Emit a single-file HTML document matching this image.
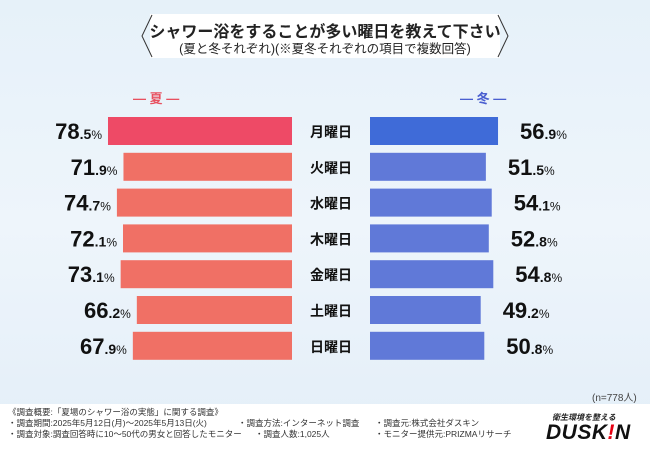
<!DOCTYPE html>
<html><head><meta charset="utf-8"><style>
body{margin:0;width:650px;height:450px;overflow:hidden;font-family:"Liberation Sans","Noto Sans CJK JP",sans-serif;}
#root{position:relative;width:650px;height:450px;background:linear-gradient(180deg,#e6f1f9 0%,#eef5fb 50%,#e3eef8 100%);}
.t{position:absolute;white-space:nowrap;}
</style></head><body>
<div id="root">
<div class="t" style="left:150px;top:14px;width:350px;height:44px;background:#fff;"></div>
<svg class="t" style="left:0;top:0" width="650" height="70">
<polyline points="152,15 142,36 152,57" fill="none" stroke="#333" stroke-width="1"/>
<polyline points="498,15 508,36 498,57" fill="none" stroke="#333" stroke-width="1"/>
</svg>
<div class="t" style="left:0;width:650px;text-align:center;top:18px;font-size:16px;font-weight:bold;color:#222;">シャワー浴をすることが多い曜日を教えて下さい</div>
<div class="t" style="left:0;width:650px;text-align:center;top:38px;font-size:12.5px;color:#222;">(夏と冬それぞれ)(※夏冬それぞれの項目で複数回答)</div>
<div class="t" style="left:133px;top:88px;font-size:13px;color:#e8505f;font-weight:bold;">— 夏 —</div>
<div class="t" style="left:460px;top:88px;font-size:13px;color:#4a5fd0;font-weight:bold;">— 冬 —</div>
<svg id="chart" class="t" style="left:0;top:0" width="650" height="400"></svg>
<div class="t" style="left:592px;top:389px;font-size:10px;color:#444;">(n=778人)</div>
<div class="t" style="left:0;top:404px;width:650px;height:46px;background:#fff;"></div>
<div class="t" style="left:8px;top:407px;font-size:8.5px;line-height:11px;color:#333;">《調査概要:「夏場のシャワー浴の実態」に関する調査》<br>・調査期間:2025年5月12日(月)～2025年5月13日(火)<br>・調査対象:調査回答時に10～50代の男女と回答したモニター</div>
<div class="t" style="left:238px;top:418px;font-size:8.5px;line-height:11px;color:#333;">・調査方法:インターネット調査<br>　　・調査人数:1,025人</div>
<div class="t" style="left:375px;top:418px;font-size:8.5px;line-height:11px;color:#333;">・調査元:株式会社ダスキン<br>・モニター提供元:PRIZMAリサーチ</div>
<div class="t" style="left:552px;top:412px;font-size:8px;font-style:italic;font-weight:bold;color:#222;">衛生環境を整える</div>
<div class="t" style="left:546px;top:421px;font-size:21px;font-style:italic;font-weight:bold;color:#111;letter-spacing:0.5px;">DUSK<span style="color:#e60012">!</span>N</div>
</div>
<script>
const days=["月曜日","火曜日","水曜日","木曜日","金曜日","土曜日","日曜日"];
const summer=[78.5,71.9,74.7,72.1,73.1,66.2,67.9];
const winter=[56.9,51.5,54.1,52.8,54.8,49.2,50.8];
const svg=document.getElementById('chart');
const NS='http://www.w3.org/2000/svg';
const sx=v=>v*2.344, wx=v=>v*2.25;
const rowY=i=>131+i*35.8;
const fmt=v=>{const s=v.toFixed(1).split('.');return s;};
function txt(x,y,anchor,parts,name){
 const t=document.createElementNS(NS,'text');
 t.setAttribute('x',x);t.setAttribute('y',y);t.setAttribute('text-anchor',anchor);
 t.setAttribute('font-family','"Liberation Sans","Noto Sans CJK JP",sans-serif');
 t.setAttribute('fill','#111');
 parts.forEach(p=>{const s=document.createElementNS(NS,'tspan');s.setAttribute('font-size',p[1]);if(p[2])s.setAttribute('font-weight','bold');s.textContent=p[0];t.appendChild(s);});
 
 
 svg.appendChild(t);
}
days.forEach((d,i)=>{
 const y=rowY(i);
 const r=document.createElementNS(NS,'rect');
 const w=sx(summer[i]);
 r.setAttribute('x',292-w);r.setAttribute('y',y-14);r.setAttribute('width',w);r.setAttribute('height',28);
 r.setAttribute('fill',i==0?'#ee4a66':'#f07065');
 
 
 svg.appendChild(r);
 const r2=document.createElementNS(NS,'rect');
 const w2=wx(winter[i]);
 r2.setAttribute('x',370);r2.setAttribute('y',y-14);r2.setAttribute('width',w2);r2.setAttribute('height',28);
 r2.setAttribute('fill',i==0?'#3f6bd8':'#6079d8');
 
 
 svg.appendChild(r2);
 txt(331,y+6,'middle',[[d,14,true]],'day-label-'+i);
 const a=fmt(summer[i]);
 txt(292-w-6,y+8,'end',[[a[0],22,true],['.'+a[1],14,true],['%',12]],'summer-value-'+i);
 const b=fmt(winter[i]);
 txt(370+w2+22,y+8,'start',[[b[0],22,true],['.'+b[1],14,true],['%',12]],'winter-value-'+i);
});
</script>
</body></html>
